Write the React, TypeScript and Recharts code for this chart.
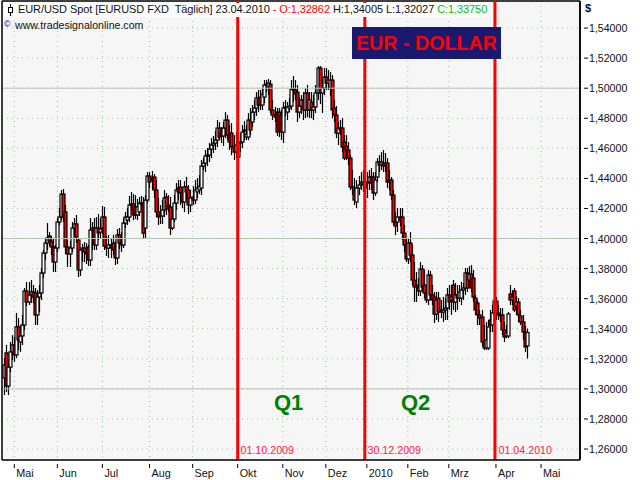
import React from "react";
import { ComposedChart, Bar, XAxis, YAxis, CartesianGrid, ReferenceLine } from "recharts";

const opens = [
1.3073,1.3239,1.3019,1.3145,1.3246,1.3292,1.3226,1.3411,1.3312,1.3352,
1.3425,1.3651,1.3578,1.3625,1.3645,1.3638,1.3492,1.3611,1.3638,1.3771,
1.3904,1.3970,1.4017,1.3983,1.3944,1.3844,1.3937,1.4110,1.4143,1.4296,
1.4177,1.3944,1.3897,1.3937,1.4070,1.4097,1.3990,1.3791,1.3924,1.3937,
1.3911,1.3944,1.3857,1.4057,1.4070,1.3957,1.4070,1.4043,1.4070,1.4143,
1.3950,1.3937,1.3957,1.3970,1.3937,1.3871,1.4024,1.3970,1.3957,1.4103,
1.4123,1.4143,1.4223,1.4230,1.4210,1.4157,1.4177,1.4236,1.4236,1.4070,
1.4256,1.4416,1.4402,1.4409,1.4323,1.4177,1.4157,1.4150,1.4190,1.4276,
1.4223,1.4210,1.4070,1.4130,1.4236,1.4336,1.4343,1.4303,1.4243,1.4343,
1.4323,1.4223,1.4276,1.4256,1.4310,1.4323,1.4336,1.4482,1.4502,1.4549,
1.4555,1.4595,1.4622,1.4635,1.4655,1.4735,1.4702,1.4682,1.4735,1.4788,
1.4688,1.4702,1.4609,1.4575,1.4542,1.4635,1.4642,1.4715,1.4675,1.4675,
1.4788,1.4775,1.4841,1.4868,1.4935,1.4941,1.4888,1.4941,1.5021,1.5008,
1.5027,1.4855,1.4821,1.4841,1.4841,1.4821,1.4708,1.4868,1.4841,1.4868,
1.4881,1.4994,1.4988,1.4974,1.4841,1.4881,1.4921,1.4855,1.4968,1.4855,
1.4908,1.4855,1.4875,1.4968,1.5134,1.4968,1.5001,1.5074,1.5034,1.5001,
1.5054,1.4868,1.4821,1.4702,1.4735,1.4735,1.4642,1.4615,1.4589,1.4535,
1.4343,1.4323,1.4243,1.4336,1.4363,1.4376,1.4369,1.4369,1.4376,1.4409,
1.4409,1.4303,1.4409,1.4509,1.4489,1.4502,1.4489,1.4502,1.4389,1.4389,
1.4289,1.4110,1.4110,1.4143,1.4143,1.4036,1.3957,1.3864,1.3970,1.3890,
1.3724,1.3691,1.3678,1.3651,1.3797,1.3691,1.3638,1.3591,1.3757,1.3625,
1.3611,1.3498,1.3604,1.3525,1.3511,1.3525,1.3538,1.3625,1.3591,1.3691,
1.3578,1.3625,1.3604,1.3604,1.3658,1.3671,1.3771,1.3724,1.3764,1.3737,
1.3604,1.3571,1.3492,1.3478,1.3312,1.3272,1.3272,1.3458,1.3425,1.3505,
1.3584,1.3505,1.3485,1.3492,1.3392,1.3352,1.3352,1.3631,1.3591,1.3651,
1.3551,1.3578,1.3485,1.3445,1.3378,1.32862,
];
const closes = [
1.3159,1.3019,1.3145,1.3246,1.3292,1.3226,1.3412,1.3325,1.3352,1.3425,
1.3651,1.3578,1.3625,1.3645,1.3611,1.3492,1.3611,1.3638,1.3771,1.3904,
1.3970,1.4004,1.3983,1.3944,1.3844,1.3937,1.4110,1.4143,1.4296,1.4143,
1.3944,1.3897,1.3937,1.4070,1.4097,1.4010,1.3791,1.3924,1.3937,1.3911,
1.3897,1.3857,1.4057,1.4070,1.3957,1.4070,1.4037,1.4063,1.4143,1.3950,
1.3937,1.3957,1.3937,1.3924,1.3871,1.4024,1.3970,1.3957,1.4103,1.4143,
1.4143,1.4223,1.4230,1.4157,1.4157,1.4210,1.4236,1.4230,1.4036,1.4256,
1.4416,1.4376,1.4389,1.4323,1.4177,1.4143,1.4150,1.4190,1.4270,1.4197,
1.4210,1.4070,1.4130,1.4236,1.4323,1.4310,1.4303,1.4243,1.4343,1.4310,
1.4223,1.4270,1.4256,1.4323,1.4336,1.4349,1.4482,1.4502,1.4549,1.4555,
1.4595,1.4622,1.4635,1.4655,1.4735,1.4675,1.4682,1.4735,1.4788,1.4688,
1.4642,1.4609,1.4575,1.4622,1.4635,1.4642,1.4708,1.4722,1.4695,1.4788,
1.4722,1.4841,1.4868,1.4935,1.4888,1.4888,1.4961,1.5021,1.5027,1.5034,
1.4855,1.4821,1.4808,1.4708,1.4722,1.4708,1.4868,1.4875,1.4875,1.4881,
1.4994,1.4988,1.4961,1.4841,1.4881,1.4921,1.4855,1.4968,1.4855,1.4921,
1.4855,1.4875,1.4968,1.5134,1.4968,1.5001,1.5074,1.5034,1.5054,1.5054,
1.4855,1.4821,1.4702,1.4735,1.4722,1.4609,1.4535,1.4589,1.4535,1.4343,
1.4343,1.4256,1.4336,1.4356,1.4376,1.4356,1.4336,1.4376,1.4409,1.4369,
1.4303,1.4389,1.4509,1.4489,1.4509,1.4482,1.4502,1.4376,1.4376,1.4289,
1.4110,1.4083,1.4143,1.4123,1.4036,1.3957,1.3864,1.3970,1.3890,1.3724,
1.3678,1.3678,1.3651,1.3797,1.3678,1.3638,1.3591,1.3757,1.3625,1.3591,
1.3498,1.3591,1.3511,1.3511,1.3525,1.3538,1.3625,1.3578,1.3611,1.3578,
1.3625,1.3604,1.3645,1.3658,1.3671,1.3771,1.3671,1.3764,1.3671,1.3611,
1.3525,1.3492,1.3471,1.3312,1.3272,1.3325,1.3412,1.3425,1.3505,1.3584,
1.3505,1.3492,1.3492,1.3392,1.3345,1.3372,1.3498,1.3591,1.3611,1.3525,
1.3578,1.3492,1.3445,1.3378,1.3279,1.3375,
];
const highs = [
1.3205,1.3292,1.3192,1.3312,1.3358,1.3345,1.3505,1.3471,1.3425,1.3492,
1.3671,1.3711,1.3711,1.3724,1.3691,1.3671,1.3658,1.3691,1.3804,1.3924,
1.4004,1.4103,1.4043,1.4017,1.4004,1.3957,1.4136,1.4203,1.4323,1.4329,
1.4223,1.3990,1.3983,1.4110,1.4136,1.4157,1.4004,1.3937,1.3964,1.3977,
1.3970,1.3957,1.4136,1.4110,1.4136,1.4143,1.4163,1.4136,1.4216,1.4210,
1.4017,1.4024,1.4004,1.4024,1.3983,1.4063,1.4070,1.4043,1.4136,1.4177,
1.4203,1.4283,1.4309,1.4296,1.4289,1.4263,1.4276,1.4283,1.4276,1.4289,
1.4442,1.4442,1.4449,1.4429,1.4389,1.4270,1.4223,1.4256,1.4323,1.4303,
1.4289,1.4276,1.4203,1.4289,1.4369,1.4389,1.4389,1.4343,1.4382,1.4409,
1.4356,1.4323,1.4349,1.4389,1.4402,1.4422,1.4522,1.4535,1.4589,1.4602,
1.4635,1.4668,1.4682,1.4715,1.4788,1.4775,1.4741,1.4775,1.4841,1.4821,
1.4755,1.4768,1.4688,1.4708,1.4675,1.4702,1.4755,1.4781,1.4755,1.4834,
1.4868,1.4888,1.4921,1.4974,1.4988,1.4988,1.5001,1.5054,1.5054,1.5061,
1.5054,1.4921,1.4875,1.4868,1.4868,1.4855,1.4908,1.4921,1.4908,1.4935,
1.5054,1.5081,1.5054,1.5021,1.4941,1.4954,1.4974,1.5001,1.5021,1.4974,
1.4974,1.4954,1.5021,1.5147,1.5147,1.5054,1.5134,1.5134,1.5121,1.5107,
1.5087,1.4921,1.4881,1.4775,1.4788,1.4801,1.4688,1.4688,1.4642,1.4556,
1.4456,1.4402,1.4389,1.4416,1.4442,1.4456,1.4422,1.4442,1.4456,1.4469,
1.4442,1.4442,1.4535,1.4555,1.4575,1.4589,1.4569,1.4535,1.4456,1.4409,
1.4323,1.4177,1.4203,1.4203,1.4203,1.4090,1.4003,1.4003,1.4043,1.3957,
1.3844,1.3777,1.3737,1.3844,1.3824,1.3791,1.3691,1.3791,1.3784,1.3691,
1.3645,1.3645,1.3645,1.3591,1.3611,1.3604,1.3671,1.3691,1.3691,1.3724,
1.3704,1.3691,1.3691,1.3711,1.3704,1.3804,1.3804,1.3817,1.3824,1.3791,
1.3625,1.3591,1.3525,1.3525,1.3425,1.3445,1.3458,1.3525,1.3558,1.3604,
1.3611,1.3558,1.3538,1.3538,1.3445,1.3425,1.3511,1.3691,1.3658,1.3671,
1.3618,1.3604,1.3525,1.3492,1.3418,1.34005,
];
const lows = [
1.2959,1.2979,1.2959,1.3112,1.3192,1.3179,1.3205,1.3259,1.3246,1.3292,
1.3392,1.3551,1.3558,1.3571,1.3571,1.3425,1.3425,1.3511,1.3591,1.3737,
1.3857,1.3924,1.3950,1.3890,1.3777,1.3777,1.3910,1.4090,1.4123,1.4110,
1.3897,1.3811,1.3811,1.3910,1.4017,1.3970,1.3744,1.3751,1.3844,1.3844,
1.3831,1.3817,1.3817,1.3924,1.3924,1.3924,1.3990,1.4003,1.4030,1.3924,
1.3884,1.3871,1.3871,1.3890,1.3824,1.3831,1.3930,1.3910,1.3937,1.4070,
1.4090,1.4110,1.4190,1.4123,1.4130,1.4123,1.4150,1.4190,1.4003,1.4003,
1.4236,1.4336,1.4323,1.4270,1.4143,1.4090,1.4097,1.4097,1.4143,1.4157,
1.4176,1.4023,1.4057,1.4110,1.4190,1.4256,1.4223,1.4203,1.4176,1.4256,
1.4163,1.4176,1.4223,1.4230,1.4270,1.4296,1.4289,1.4456,1.4442,1.4482,
1.4509,1.4535,1.4569,1.4589,1.4609,1.4655,1.4635,1.4615,1.4668,1.4655,
1.4589,1.4555,1.4522,1.4535,1.4476,1.4575,1.4602,1.4655,1.4655,1.4655,
1.4688,1.4741,1.4788,1.4815,1.4841,1.4855,1.4855,1.4901,1.4974,1.4954,
1.4835,1.4788,1.4775,1.4682,1.4675,1.4655,1.4635,1.4815,1.4788,1.4841,
1.4855,1.4908,1.4921,1.4775,1.4801,1.4828,1.4788,1.4801,1.4808,1.4801,
1.4801,1.4788,1.4835,1.4921,1.4894,1.4835,1.4954,1.4988,1.4988,1.4948,
1.4801,1.4775,1.4668,1.4622,1.4688,1.4575,1.4522,1.4522,1.4489,1.4323,
1.4289,1.4223,1.4203,1.4289,1.4323,1.4310,1.4270,1.4270,1.4323,1.4323,
1.4256,1.4283,1.4376,1.4442,1.4456,1.4442,1.4442,1.4336,1.4323,1.4256,
1.4090,1.4023,1.4043,1.4083,1.3990,1.3910,1.3844,1.3831,1.3844,1.3691,
1.3578,1.3578,1.3618,1.3618,1.3645,1.3604,1.3571,1.3558,1.3591,1.3558,
1.3438,1.3458,1.3445,1.3471,1.3445,1.3458,1.3458,1.3525,1.3492,1.3525,
1.3511,1.3525,1.3578,1.3558,1.3591,1.3625,1.3645,1.3671,1.3645,1.3578,
1.3492,1.3425,1.3425,1.3285,1.3259,1.3259,1.3259,1.3378,1.3378,1.3425,
1.3458,1.3458,1.3445,1.3358,1.3312,1.3338,1.3338,1.3558,1.3558,1.3511,
1.3492,1.3445,1.3425,1.3325,1.3245,1.32027,
];

const monthTicks = [5, 26, 48, 71, 92, 114, 136, 157, 177, 197, 217, 240, 262];
const monthLabels = ["Mai", "Jun", "Jul", "Aug", "Sep", "Okt", "Nov", "Dez", "2010", "Feb", "Mrz", "Apr", "Mai"];
const priceTicks = [1.26, 1.28, 1.3, 1.32, 1.34, 1.36, 1.38, 1.4, 1.42, 1.44, 1.46, 1.48, 1.5, 1.52, 1.54];
const solidLevels = [1.3, 1.4, 1.5];
const quarterMarks = [114, 176, 239.5];

const data = closes.map((c, i) => ({
  i,
  open: opens[i],
  close: c,
  high: highs[i],
  low: lows[i],
  range: [lows[i], highs[i]],
}));

const FONT = '"Liberation Sans", Arial, sans-serif';

function Candle(props: any) {
  const { x, y, width, height, payload } = props;
  const top = Math.min(y, y + height);
  const bottom = Math.max(y, y + height);
  const span = payload.high - payload.low || 1;
  const py = (v: number) => top + ((payload.high - v) / span) * (bottom - top);
  const yo = py(payload.open);
  const yc = py(payload.close);
  const cx = Math.round(x + width / 2) + 0.5;
  const up = payload.close >= payload.open;
  return (
    <g>
      <line x1={cx} x2={cx} y1={top} y2={bottom} stroke="#000" strokeWidth={1.2} />
      <rect
        x={cx - 1.5}
        y={Math.min(yo, yc)}
        width={3}
        height={Math.max(Math.abs(yc - yo), 1)}
        fill={up ? "#fff" : "#ff0000"}
        stroke="#000"
        strokeWidth={1.2}
      />
    </g>
  );
}

function XTick(props: any) {
  const { x, y, payload } = props;
  const label = monthLabels[monthTicks.indexOf(payload.value)];
  return (
    <g>
      <line x1={x} x2={x} y1={y + 4} y2={y + 8} stroke="#000" />
      <text x={x + 2} y={y + 17} fontSize={10.8} fontFamily={FONT} fill="#111">
        {label}
      </text>
    </g>
  );
}

function YTick(props: any) {
  const { x, y, payload } = props;
  return (
    <g>
      <line x1={x + 4} x2={x + 8} y1={y} y2={y} stroke="#000" />
      <text x={x + 9} y={y + 4} fontSize={10.6} fontFamily={FONT} fill="#111">
        {payload.value.toFixed(5).replace(".", ",")}
      </text>
    </g>
  );
}

const abs = (s: React.CSSProperties): React.CSSProperties => ({
  position: "absolute",
  whiteSpace: "pre",
  fontFamily: FONT,
  lineHeight: 1,
  ...s,
});

function DateNote({ x, children }: { x: number; children: string }) {
  return <div style={abs({ left: x, top: 445, fontSize: 10.7, color: "#ff2050" })}>{children}</div>;
}

export default function App() {
  return (
    <div style={{ position: "absolute", left: 0, top: 0, width: 640, height: 480, background: "#fff", overflow: "hidden" }}>
      <ComposedChart
        width={640}
        height={480}
        data={data}
        margin={{ top: 1, right: 0, bottom: 0, left: 2 }}
      >
        <CartesianGrid fill="#f6f6f6" stroke="#9fc09f" strokeDasharray="1 4" />
        <XAxis
          dataKey="i"
          type="number"
          domain={[-1, 281]}
          ticks={monthTicks}
          interval={0}
          height={20}
          tickSize={0}
          tickMargin={0}
          tick={XTick}
          tickLine={false}
          axisLine={{ stroke: "#000", strokeWidth: 1.5 }}
          allowDataOverflow
        />
        <YAxis
          orientation="right"
          type="number"
          domain={[1.2527, 1.558]}
          ticks={priceTicks}
          interval={0}
          width={60}
          tickSize={0}
          tickMargin={0}
          tick={YTick}
          tickLine={false}
          axisLine={{ stroke: "#000", strokeWidth: 1.5 }}
          allowDataOverflow
        />
        {solidLevels.map((v) => (
          <ReferenceLine key={v} y={v} stroke="#b2c6b2" strokeWidth={1} />
        ))}
        <ReferenceLine y={1.558} stroke="#000" strokeWidth={1.5} />
        <ReferenceLine x={-1} stroke="#000" strokeWidth={1.5} />
        <ReferenceLine x={281} stroke="#000" strokeWidth={1.5} />
        <Bar dataKey="range" barSize={3} shape={Candle} isAnimationActive={false} />
        {quarterMarks.map((v) => (
          <ReferenceLine key={v} x={v} stroke="#ff0000" strokeWidth={3} />
        ))}
      </ComposedChart>

      <div style={abs({ left: 4, top: 3, height: 14, width: 483, background: "#fff", fontSize: 11, letterSpacing: -0.08, color: "#111", paddingLeft: 14, boxSizing: "border-box", paddingTop: 1 })}>
        <span>EUR/USD Spot [EURUSD FXD  Täglich] 23.04.2010 </span>
        <span style={{ color: "#ff0000" }}>- O:1,32862</span>
        <span> H:1,34005 L:1,32027 </span>
        <span style={{ color: "#00c000" }}>C:1,33750</span>
      </div>
      <svg style={{ position: "absolute", left: 6, top: 4 }} width={10} height={13}>
        <line x1={4.5} x2={4.5} y1={0} y2={12} stroke="#000" />
        <rect x={2.5} y={3.5} width={4} height={5} fill="#fff" stroke="#000" />
      </svg>
      <div style={abs({ left: 4, top: 20, fontSize: 9, color: "#111" })}>©</div>
      <div style={abs({ left: 15, top: 20, fontSize: 10.6, color: "#111" })}>www.tradesignalonline.com</div>

      <div style={abs({ left: 352, top: 27, width: 149, height: 32, background: "#191970", color: "#ff0000", fontWeight: 700, fontSize: 19.7, textAlign: "center", lineHeight: "32px" })}>
        EUR - DOLLAR
      </div>

      <div style={abs({ left: 274, top: 392, fontSize: 22, fontWeight: 700, color: "#008000" })}>Q1</div>
      <div style={abs({ left: 401, top: 392, fontSize: 22, fontWeight: 700, color: "#008000" })}>Q2</div>

      <DateNote x={240.5}>01.10.2009</DateNote>
      <DateNote x={367.5}>30.12.2009</DateNote>
      <DateNote x={498.5}>01.04.2010</DateNote>

      <div style={abs({ left: 585, top: 3, fontSize: 11, fontWeight: 700, color: "#111" })}>$</div>
    </div>
  );
}
